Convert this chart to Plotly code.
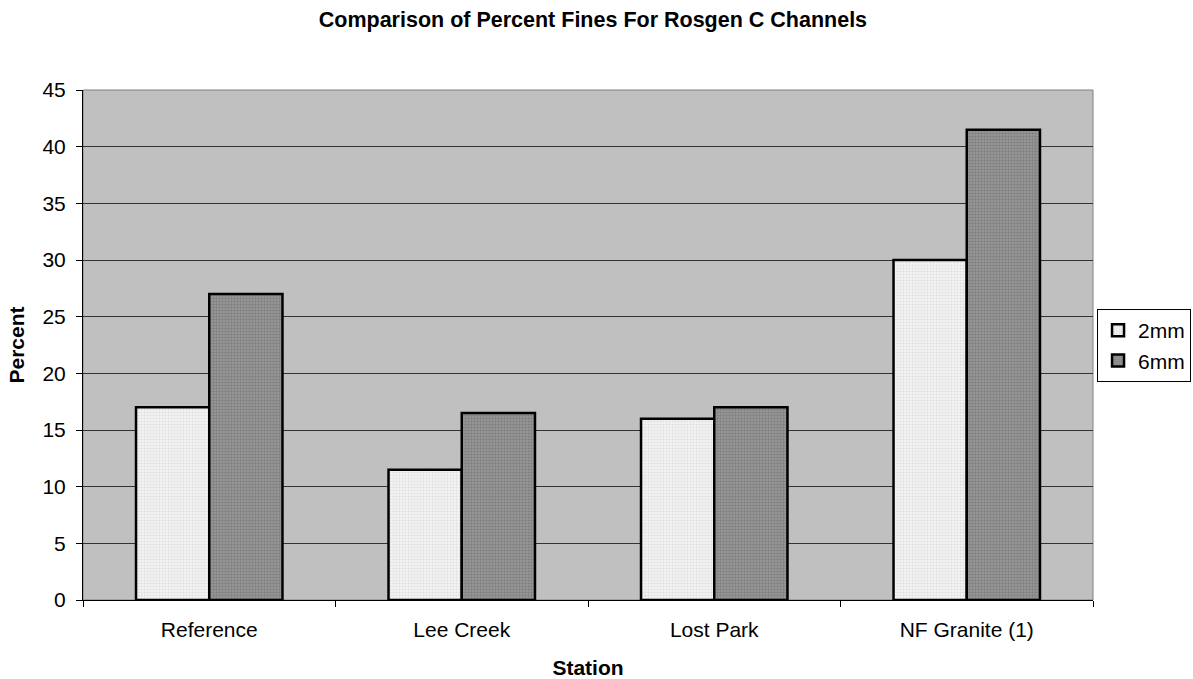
import plotly.graph_objects as go

categories = ["Reference", "Lee Creek", "Lost Park", "NF Granite (1)"]
fines_2mm = [17.0, 11.5, 16.0, 30.0]
fines_6mm = [27.0, 16.5, 17.0, 41.5]
y_ticks = [0, 5, 10, 15, 20, 25, 30, 35, 40, 45]

fig = go.Figure()
fig.add_trace(go.Bar(
    x=categories, y=fines_2mm, name="2mm",
    marker=dict(color="#f2f2f2", line=dict(color="black", width=2.5),
                pattern=dict(shape=".", fgcolor="#c8c8c8", bgcolor="#f4f4f4", size=3, solidity=0.4)),
))
fig.add_trace(go.Bar(
    x=categories, y=fines_6mm, name="6mm",
    marker=dict(color="#808080", line=dict(color="black", width=2.5),
                pattern=dict(shape=".", fgcolor="#666666", bgcolor="#9a9a9a", size=3, solidity=0.5)),
))

font_family = "Liberation Sans, Arial, sans-serif"
fs = 21
fig.update_layout(
    width=1193, height=679,
    margin=dict(l=83, r=100, t=90, b=79, autoexpand=False),
    paper_bgcolor="white",
    plot_bgcolor="#c0c0c0",
    barmode="group",
    bargap=0.42,
    bargroupgap=0,
    font=dict(family=font_family, size=fs, color="black"),
    title=dict(text="<b>Comparison of Percent Fines For Rosgen C Channels</b>",
               x=0.497, xref="container", xanchor="center",
               y=1 - 19 / 679, yref="container", yanchor="middle",
               font=dict(size=21.5, family=font_family)),
    showlegend=True,
    legend=dict(x=1.004, xref="paper", xanchor="left", y=0.499, yanchor="middle",
                bgcolor="white", bordercolor="black", borderwidth=1,
                font=dict(size=fs, family=font_family),
                itemwidth=30, tracegroupgap=0),
    xaxis=dict(
        title=dict(text="<b>Station</b>", font=dict(size=fs), standoff=20),
        automargin=False,
        showline=True, linecolor="black", linewidth=1,
        ticks="outside", ticklen=6, tickcolor="black", tickson="boundaries",
        ticklabelstandoff=11,
        tickfont=dict(size=fs), mirror=False, showgrid=False,
    ),
    yaxis=dict(
        title=dict(text="<b>Percent</b>", font=dict(size=fs), standoff=12),
        automargin=False,
        range=[0, 45], tickvals=y_ticks,
        showline=True, linecolor="black", linewidth=1,
        ticks="outside", ticklen=6, tickcolor="black", ticklabelstandoff=6,
        showgrid=True, gridcolor="#333333", gridwidth=1,
        tickfont=dict(size=fs), zeroline=False,
    ),
)
# grey border of the plot area (top/right)
fig.add_shape(type="rect", xref="paper", yref="paper", x0=0, x1=1, y0=0, y1=1,
              line=dict(color="#808080", width=1), layer="below")

fig.write_html("out.html")
